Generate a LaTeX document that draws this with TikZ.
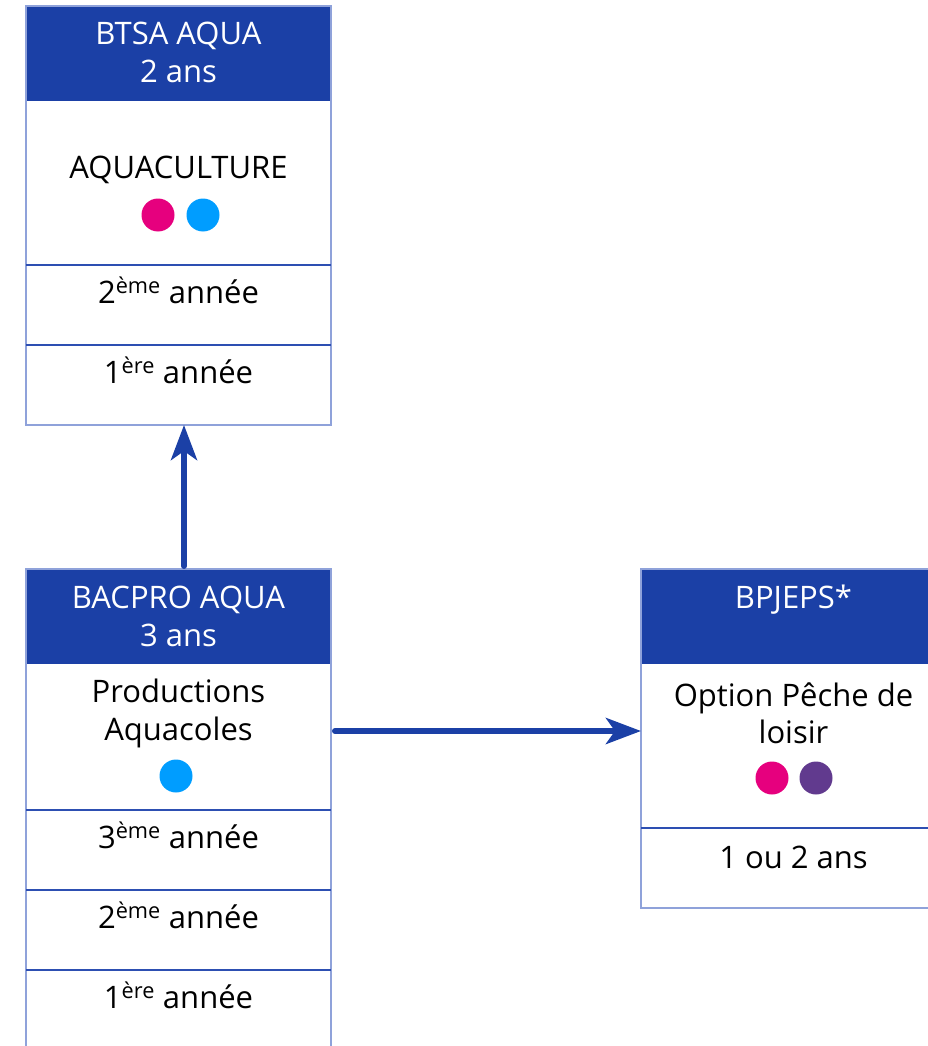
\documentclass[tikz,border=0pt]{standalone}
\usepackage{fontspec}
\setmainfont{Open Sans}
\usetikzlibrary{arrows.meta}
\definecolor{hblue}{HTML}{1B40A6}
\definecolor{frameblue}{HTML}{8FA2DA}
\definecolor{divblue}{HTML}{2D4FB2}
\definecolor{dpink}{HTML}{E6007E}
\definecolor{dsky}{HTML}{009DFF}
\definecolor{dpurple}{HTML}{613A8E}
\begin{document}
\begin{tikzpicture}[x=1pt,y=-1pt,
 head/.style={fill=hblue, draw=none, minimum width=305pt, minimum height=95pt, anchor=north west, inner sep=0pt, outer sep=0pt},
 cell/.style={minimum width=305pt, anchor=north west, inner sep=0pt, outer sep=0pt},
 htxt/.style={text=white, font=\fontsize{31}{38}\selectfont, anchor=base, inner sep=0pt},
 btxt/.style={text=black, font=\fontsize{31}{38}\selectfont, anchor=base, inner sep=0pt},
 frame/.style={draw=frameblue, line width=1.4pt},
 divline/.style={draw=divblue, line width=1.1pt},
 dot/.style={circle, minimum size=33pt, inner sep=0pt, draw=none},
 arr/.style={draw=hblue, line width=6pt, line cap=round, -{Stealth[length=35pt, width=26pt, inset=9pt]}}
]
\useasboundingbox (0,0) rectangle (928,1046);
\clip (0,0) rectangle (928,1046);

% ---- BTSA box
\node[head] (btsahead) at (26,6) {};
\node[cell, minimum height=164pt] (btsamain) at (26,101) {};
\node[cell, minimum height=80pt] (btsa2) at (26,265) {};
\node[cell, minimum height=80pt] (btsa1) at (26,345) {};
\draw[frame] (btsahead.north west) rectangle (btsa1.south east);
\draw[divline] (btsa2.north west) -- (btsa2.north east);
\draw[divline] (btsa1.north west) -- (btsa1.north east);
\node[htxt] (btsat1) at (178.5,45) {BTSA AQUA};
\node[htxt] (btsat2) at (178.5,83) {2 ans};
\node[btxt] (btsaspec) at (178.5,178) {AQUACULTURE};
\node[dot, fill=dpink] (btsadota) at (158,215) {};
\node[dot, fill=dsky] (btsadotb) at (203,215) {};
\node[btxt] (btsay2) at (178.5,303) {2\textsuperscript{ème} année};
\node[btxt] (btsay1) at (178.5,383) {1\textsuperscript{ère} année};

% ---- BACPRO box
\node[head] (bachead) at (26,569) {};
\node[cell, minimum height=146pt] (bacmain) at (26,664) {};
\node[cell, minimum height=80pt] (bac3) at (26,810) {};
\node[cell, minimum height=80pt] (bac2) at (26,890) {};
\node[cell, minimum height=100pt] (bac1) at (26,970) {};
\draw[frame] (bachead.north west) rectangle (bac1.south east);
\draw[divline] (bac3.north west) -- (bac3.north east);
\draw[divline] (bac2.north west) -- (bac2.north east);
\draw[divline] (bac1.north west) -- (bac1.north east);
\node[htxt] (bact1) at (178.5,608) {BACPRO AQUA};
\node[htxt] (bact2) at (178.5,646) {3 ans};
\node[btxt] (bacspec1) at (178.5,702) {Productions};
\node[btxt] (bacspec2) at (178.5,740) {Aquacoles};
\node[dot, fill=dsky] (bacdot) at (176,776) {};
\node[btxt] (bacy3) at (178.5,848) {3\textsuperscript{ème} année};
\node[btxt] (bacy2) at (178.5,928) {2\textsuperscript{ème} année};
\node[btxt] (bacy1) at (178.5,1008) {1\textsuperscript{ère} année};

% ---- BPJEPS box
\node[head] (bpjhead) at (641,569) {};
\node[cell, minimum height=164pt] (bpjmain) at (641,664) {};
\node[cell, minimum height=80pt] (bpjdur) at (641,828) {};
\draw[frame] (bpjhead.north west) rectangle (bpjdur.south east);
\draw[divline] (bpjdur.north west) -- (bpjdur.north east);
\node[htxt] (bpjt1) at (793.5,608) {BPJEPS*};
\node[btxt] (bpjspec1) at (793.5,706) {Option Pêche de};
\node[btxt] (bpjspec2) at (793.5,743) {loisir};
\node[dot, fill=dpink] (bpjdota) at (772,778) {};
\node[dot, fill=dpurple] (bpjdotb) at (816,778) {};
\node[btxt] (bpjdurt) at (793.5,868) {1 ou 2 ans};

% ---- connectors
\coordinate (arrAstart) at (184,566);
\coordinate (arrBstart) at (335,731);
\draw[arr] (arrAstart) -- (arrAstart |- btsa1.south);
\draw[arr] (arrBstart) -- (arrBstart -| bpjmain.west);
\end{tikzpicture}
\end{document}
